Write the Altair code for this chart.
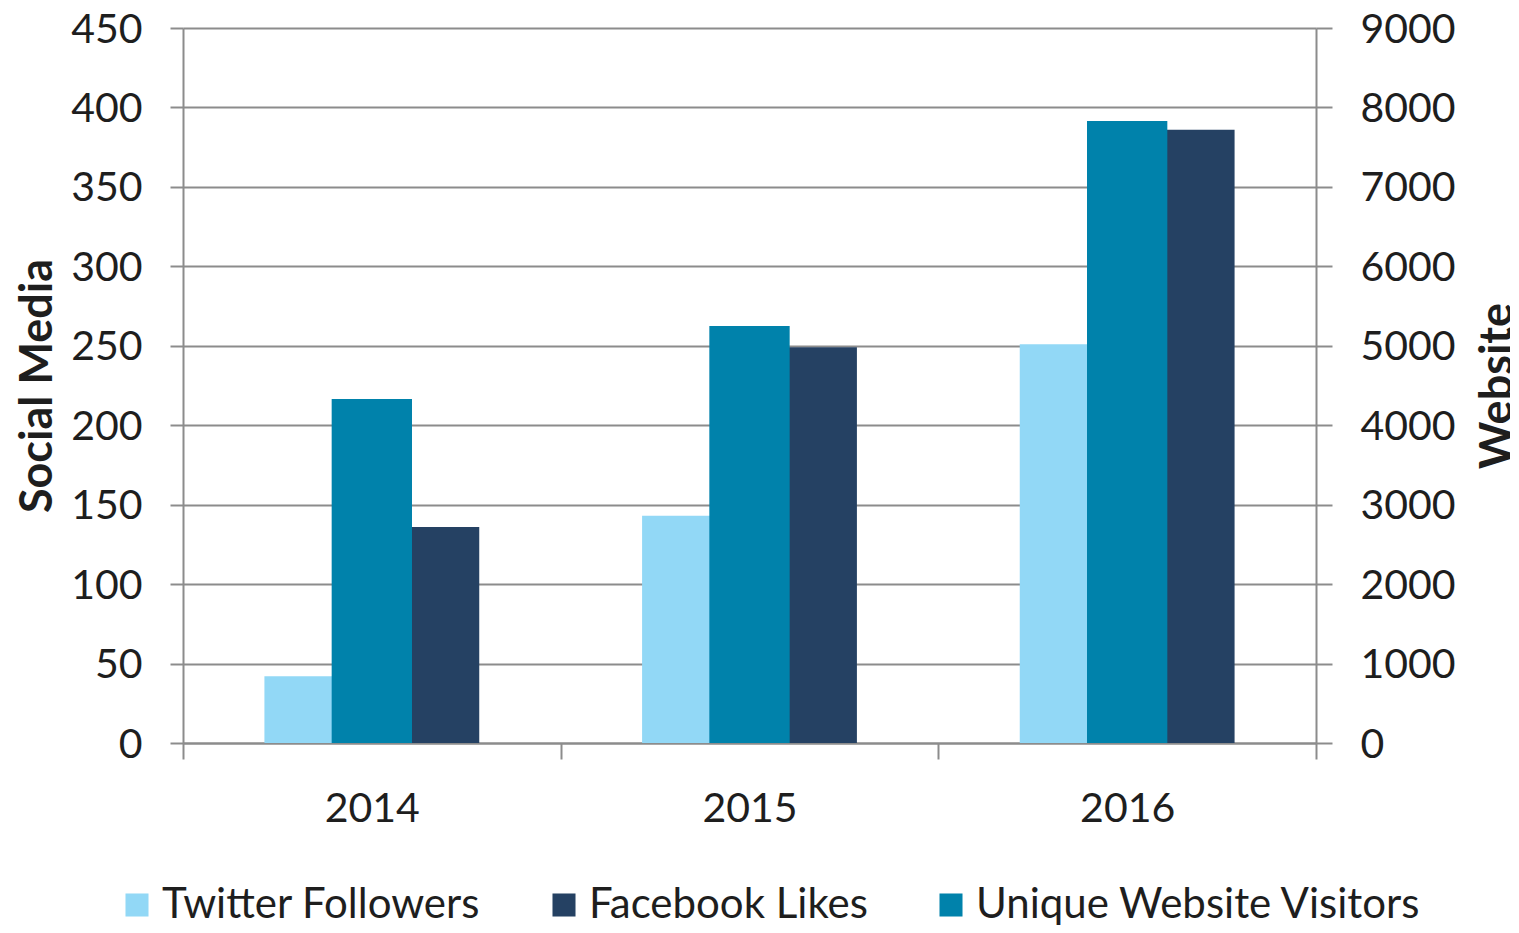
import altair as alt
import pandas as pd

years = ["2014", "2015", "2016"]
twitter = [42, 143, 251]
facebook = [136, 249, 386]
website = [4330, 5250, 7830]

series_names = ["Twitter Followers", "Facebook Likes", "Unique Website Visitors"]
series_colors = ["#92D8F6", "#254163", "#0082AB"]

primary = pd.DataFrame(
    [{"year": y, "series": "Twitter Followers", "value": v} for y, v in zip(years, twitter)]
    + [{"year": y, "series": "Facebook Likes", "value": v} for y, v in zip(years, facebook)]
)
secondary = pd.DataFrame(
    [{"year": y, "series": "Unique Website Visitors", "visitors": v} for y, v in zip(years, website)]
)

FONT = "Lato"
GRID = "#8C8C8C"
TEXT = "#1E1E1E"

color = alt.Color(
    "series:N",
    scale=alt.Scale(domain=series_names, range=series_colors),
    legend=alt.Legend(
        title=None,
        orient="none",
        direction="horizontal",
        legendX=-67,
        legendY=856,
        symbolType="square",
        symbolSize=530,
        symbolStrokeWidth=0,
        labelFont=FONT,
        labelFontSize=42,
        labelColor=TEXT,
        labelOffset=4,
        labelLimit=1000,
        columnPadding=62,
    ),
)

x = alt.X(
    "year:N",
    sort=years,
    scale=alt.Scale(paddingInner=0, paddingOuter=0),
    axis=alt.Axis(
        title=None,
        labelAngle=0,
        tickBand="extent",
        tickSize=16,
        tickWidth=2,
        tickColor=GRID,
        domainColor=GRID,
        domainWidth=2,
        labelFont=FONT,
        labelFontSize=41,
        labelColor=TEXT,
        labelPadding=30,
        grid=False,
    ),
)

bars = alt.Chart(primary).mark_bar().encode(
    x=x,
    xOffset=alt.XOffset(
        "series:N",
        scale=alt.Scale(domain=["Twitter Followers", "Facebook Likes"], paddingInner=0, paddingOuter=0.758),
    ),
    y=alt.Y(
        "value:Q",
        scale=alt.Scale(domain=[0, 450], nice=False),
        axis=alt.Axis(
            title="Social Media",
            orient="left",
            values=list(range(0, 451, 50)),
            format="d",
            tickSize=13,
            tickWidth=2,
            tickColor=GRID,
            domainColor=GRID,
            domainWidth=2,
            grid=True,
            gridColor=GRID,
            gridWidth=2,
            labelFont=FONT,
            labelFontSize=41,
            labelColor=TEXT,
            labelPadding=28,
            labelOffset=2,
            titleFont=FONT,
            titleFontSize=45,
            titleFontWeight="bold",
            titleColor=TEXT,
            titlePadding=10,
        ),
    ),
    color=color,
)

visits = alt.Chart(secondary).mark_bar(width=alt.RelativeBandSize(0.2127)).encode(
    x=x,
    y=alt.Y(
        "visitors:Q",
        scale=alt.Scale(domain=[0, 9000], nice=False),
        axis=alt.Axis(
            title="Website",
            orient="right",
            values=list(range(0, 9001, 1000)),
            format="d",
            tickSize=16,
            tickWidth=2,
            tickColor=GRID,
            domainColor=GRID,
            domainWidth=2,
            grid=False,
            labelFont=FONT,
            labelFontSize=41,
            labelColor=TEXT,
            labelPadding=28,
            labelOffset=2,
            titleFont=FONT,
            titleFontSize=45,
            titleFontWeight="bold",
            titleColor=TEXT,
            titleAngle=270,
            titleBaseline="top",
            titlePadding=20,
        ),
    ),
    color=color,
)

chart = (
    alt.layer(bars, visits)
    .resolve_scale(y="independent")
    .properties(
        width=1133,
        height=715,
        autosize=alt.AutoSizeParams(type="none"),
        padding={"left": 175, "top": 20, "right": 194, "bottom": 182},
        background="white",
    )
    .configure_view(stroke="transparent")
)

chart.save("out.html", embed_options={"renderer": "svg", "actions": False})
